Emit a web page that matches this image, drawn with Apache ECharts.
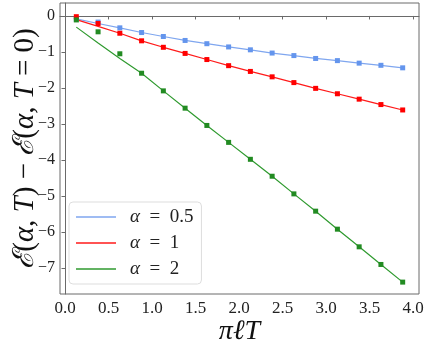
<!DOCTYPE html>
<html>
<head>
<meta charset="utf-8">
<script src="https://cdn.jsdelivr.net/npm/echarts@6/dist/echarts.min.js"></script>
<style>html,body{margin:0;padding:0;background:#fff}#c{width:427px;height:346px}</style>
</head>
<body>
<div id="c"></div>
<script>
var xValues = [0.13,0.38,0.63,0.88,1.13,1.38,1.63,1.88,2.13,2.38,2.63,2.88,3.13,3.38,3.63,3.88];
var seriesNames = ['α = 0.5', 'α = 1', 'α = 2'];
var blueMarkers = [-0.09,-0.17,-0.33,-0.46,-0.57,-0.68,-0.77,-0.86,-0.94,-1.03,-1.10,-1.18,-1.24,-1.31,-1.37,-1.44];
var blueLine    = [-0.08,-0.21,-0.33,-0.46,-0.57,-0.68,-0.77,-0.86,-0.94,-1.03,-1.10,-1.18,-1.24,-1.31,-1.37,-1.44];
var redMarkers  = [-0.02,-0.21,-0.48,-0.69,-0.87,-1.04,-1.21,-1.38,-1.54,-1.69,-1.85,-2.01,-2.16,-2.31,-2.46,-2.61];
var redLine     = [-0.10,-0.29,-0.48,-0.69,-0.87,-1.04,-1.21,-1.38,-1.54,-1.69,-1.85,-2.01,-2.16,-2.31,-2.46,-2.61];
var greenMarkers= [-0.11,-0.44,-1.05,-1.59,-2.08,-2.56,-3.04,-3.51,-3.98,-4.45,-4.94,-5.42,-5.92,-6.41,-6.90,-7.39];
var greenLine   = [-0.31,-0.75,-1.18,-1.59,-2.08,-2.56,-3.04,-3.51,-3.98,-4.45,-4.94,-5.42,-5.92,-6.41,-6.90,-7.39];
var xTicks = [0,0.5,1,1.5,2,2.5,3,3.5,4];
var yTicks = [0,-1,-2,-3,-4,-5,-6,-7];

function pairs(xs, ys){ return xs.map(function(x,i){return [x, ys[i]];}); }

var lineColors = ['#7fa6ef', '#ff1a1a', '#2f9a2f'];
var markerColors = ['#6495ed', '#ff0000', '#228b22'];
var lines = [blueLine, redLine, greenLine];
var marks = [blueMarkers, redMarkers, greenMarkers];

var FONT = 'Liberation Serif';
var series = [];
for (var i = 0; i < 3; i++) {
  series.push({
    name: seriesNames[i], type: 'line', data: pairs(xValues, lines[i]),
    symbol: 'none', lineStyle: {color: lineColors[i], width: 1.2}, itemStyle: {color: lineColors[i]},
    z: 2, animation: false
  });
}
for (var j = 0; j < 3; j++) {
  series.push({
    name: 'm' + j, type: 'scatter', data: pairs(xValues, marks[j]),
    symbol: 'rect', symbolSize: 5, itemStyle: {color: markerColors[j], opacity: 1},
    z: 3, animation: false
  });
}

var chart = echarts.init(document.getElementById('c'), null, {renderer: 'canvas'});
chart.setOption({
  animation: false,
  grid: {left: 60, top: 3, right: 8, bottom: 52, outerBoundsMode: 'none', containLabel: false,
    show: true, borderColor: '#6a6a6a', borderWidth: 1, backgroundColor: 'transparent'},
  xAxis: {
    type: 'value', min: -0.0575, max: 4.0675,
    splitLine: {show: false},
    axisLine: {lineStyle: {color: '#6a6a6a'}},
    axisTick: {show: true, length: 3.5, customValues: xTicks, lineStyle: {color: '#6a6a6a'}},
    axisLabel: {customValues: xTicks, margin: 6, fontFamily: FONT, fontSize: 17, color: '#222',
      formatter: function(v){ return v.toFixed(1); }},
    name: 'πℓT', nameLocation: 'middle', nameGap: 24, nameMoveOverlap: false,
    nameTextStyle: {fontFamily: FONT, fontSize: 28, fontStyle: 'italic', color: '#111'}
  },
  yAxis: {
    type: 'value', min: -7.72, max: 0.36,
    splitLine: {show: false},
    axisLine: {show: true, lineStyle: {color: '#6a6a6a'}},
    axisTick: {show: true, length: 3.5, customValues: yTicks, lineStyle: {color: '#6a6a6a'}},
    axisLabel: {customValues: yTicks, margin: 5, fontFamily: FONT, fontSize: 16, color: '#222',
      formatter: function(v){ return v === 0 ? '0' : '\u2212' + Math.abs(v); }},
    name: '{s|ℰ}({i|α}, {i|T}) − {s|ℰ}({i|α}, {i|T} = 0)', nameLocation: 'middle', nameGap: 20, nameRotate: 90,
    nameMoveOverlap: false,
    nameTextStyle: {fontFamily: FONT, fontSize: 29, color: '#111',
      rich: {i: {fontFamily: FONT, fontSize: 29, fontStyle: 'italic', color: '#111'},
             s: {fontFamily: 'DejaVu Serif', fontSize: 29, fontStyle: 'italic', color: '#111'}}}
  },
  legend: {
    data: seriesNames, orient: 'vertical', left: 69, top: 202, icon: 'rect',
    padding: [5, 8, 5, 7], itemGap: 6, itemWidth: 40, itemHeight: 1.5,
    backgroundColor: 'rgba(255,255,255,0.85)', borderColor: '#dddddd', borderWidth: 1, borderRadius: 4,
    formatter: function(n){ return n.replace('α', '{i|α}').replace('=', ' = '); },
    textStyle: {fontFamily: FONT, fontSize: 19, lineHeight: 20, color: '#222', padding: [0,0,0,9],
      rich: {i: {fontFamily: FONT, fontSize: 19, lineHeight: 20, fontStyle: 'italic', color: '#222'}}}
  },
  series: series
});
</script>
</body>
</html>
